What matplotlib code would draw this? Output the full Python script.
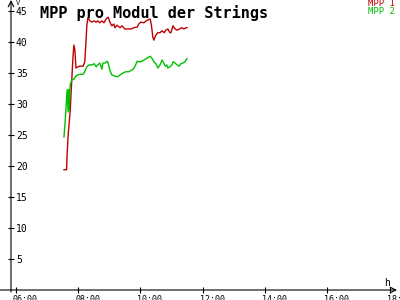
import matplotlib
matplotlib.use('Agg')
import matplotlib.pyplot as plt

# MPP per module, two strings (time of day, value)
red_times = ['07:33', '07:38', '07:39', '07:41', '07:45', '07:46', '07:48', '07:50', '07:52', '07:54',
             '07:56', '08:00', '08:04', '08:10', '08:13', '08:15', '08:17', '08:19', '08:23', '08:27',
             '08:31', '08:35', '08:38', '08:42', '08:46', '08:50', '08:54', '08:58', '09:02', '09:05',
             '09:09', '09:11', '09:15', '09:21', '09:25', '09:30', '09:36', '09:42', '09:48', '09:54',
             '09:57', '10:01', '10:07', '10:13', '10:19', '10:21', '10:23', '10:24', '10:26', '10:30',
             '10:34', '10:38', '10:42', '10:46', '10:49', '10:53', '10:57', '10:59', '11:03', '11:07',
             '11:11', '11:15', '11:20', '11:24', '11:28', '11:30']
red_values = [19.4, 19.4, 21.8, 25.0, 29.0, 30.6, 33.9, 37.1, 39.5, 38.7,
              35.8, 36.0, 36.1, 36.1, 36.8, 39.5, 42.7, 43.9, 43.4, 43.2,
              43.4, 43.2, 43.4, 43.1, 43.4, 43.1, 43.7, 44.0, 43.1, 42.6,
              42.9, 42.3, 42.7, 42.3, 42.6, 42.1, 42.1, 42.1, 42.3, 42.4,
              42.9, 43.2, 43.1, 43.5, 43.7, 42.9, 41.6, 40.8, 40.3, 41.1,
              41.5, 41.5, 41.8, 41.5, 41.9, 42.1, 41.5, 41.5, 42.6, 42.1,
              41.9, 42.1, 42.3, 42.1, 42.3, 42.3]

green_times = ['07:33', '07:35', '07:37', '07:39', '07:41', '07:42', '07:43', '07:45', '07:48', '07:52',
               '07:56', '08:00', '08:04', '08:10', '08:13', '08:17', '08:21', '08:27', '08:31', '08:35',
               '08:38', '08:42', '08:46', '08:48', '08:52', '08:56', '08:58', '09:02', '09:05', '09:11',
               '09:17', '09:21', '09:27', '09:32', '09:38', '09:44', '09:48', '09:52', '09:54', '09:57',
               '10:01', '10:07', '10:13', '10:19', '10:23', '10:26', '10:30', '10:34', '10:38', '10:42',
               '10:44', '10:48', '10:51', '10:53', '10:57', '11:01', '11:03', '11:07', '11:11', '11:15',
               '11:18', '11:22', '11:26', '11:28', '11:30']
green_values = [24.7, 26.9, 29.5, 32.3, 28.7, 32.3, 29.0, 33.1, 33.9, 34.0,
                34.5, 34.7, 34.8, 34.8, 35.2, 36.0, 36.3, 36.3, 36.5, 36.0,
                36.3, 36.6, 35.6, 36.6, 36.6, 36.9, 36.6, 35.3, 34.7, 34.5,
                34.4, 34.7, 35.0, 35.2, 35.2, 35.5, 35.8, 36.5, 36.9, 36.8,
                36.8, 37.1, 37.4, 37.7, 37.3, 36.8, 36.5, 35.8, 36.3, 37.1,
                36.8, 36.1, 36.3, 35.8, 36.0, 36.3, 36.8, 36.6, 36.3, 36.1,
                36.5, 36.6, 36.8, 37.1, 37.3]

series_names = ['MPP 1', 'MPP 2']
series_colors = ['#c00000', '#00c000']

x_ticks = [6, 8, 10, 12, 14, 16, 18]
x_labels = ['06:00', '08:00', '10:00', '12:00', '14:00', '16:00', '18:00']
y_ticks = [5, 10, 15, 20, 25, 30, 35, 40, 45]


def toHours(t):
    h, m = t.split(':')
    return int(h) + int(m) / 60.0


mono = 'DejaVu Sans Mono'

fig = plt.figure(figsize=(4, 3), dpi=100)
ax = fig.add_axes([11 / 400, 10 / 300, 386 / 400, 290 / 300])

ax.plot([toHours(t) for t in red_times], red_values, color=series_colors[0], lw=1.0)
ax.plot([toHours(t) for t in green_times], green_values, color=series_colors[1], lw=1.0)

ax.set_xlim(5.849, 18.24)
ax.set_ylim(0, 46.77)

for s in ax.spines.values():
    s.set_visible(False)

# axes drawn as arrows
ax.annotate('', xy=(1.0, 0), xytext=(-11 / 386, 0), xycoords='axes fraction',
            arrowprops=dict(arrowstyle='->', color='black', lw=0.8, shrinkA=0, shrinkB=0))
ax.annotate('', xy=(0, 1.0), xytext=(0, -2 / 290), xycoords='axes fraction',
            arrowprops=dict(arrowstyle='->', color='black', lw=0.8, shrinkA=0, shrinkB=0))

ax.set_xticks(x_ticks)
ax.set_xticklabels(x_labels, fontsize=6, family=mono, ha='left')
ax.set_yticks(y_ticks)
ax.set_yticklabels([str(v) for v in y_ticks], fontsize=7, family=mono, ha='left')
ax.tick_params(axis='x', direction='inout', length=5, width=0.8, pad=1)
ax.tick_params(axis='y', direction='inout', length=5, width=0.8, pad=-6)
for lbl in ax.get_xticklabels():
    lbl.set_x(lbl.get_position()[0])
from matplotlib.transforms import ScaledTranslation
for lbl in ax.get_xticklabels():
    lbl.set_transform(lbl.get_transform() + ScaledTranslation(-3 / 100, 0, fig.dpi_scale_trans))

ax.set_title('MPP pro Modul der Strings', fontsize=11, family=mono, fontweight='bold',
             loc='left', x=29 / 386, y=1.0, pad=-13)

fig.text(16 / 400, 1 - 3 / 300, 'V', fontsize=5, family=mono, va='center', ha='left')
fig.text(387 / 400, 1 - 283 / 300, 'h', fontsize=7, family=mono, va='center', ha='center')

fig.text(395 / 400, 1 - 4 / 300, series_names[0], fontsize=6.5, family=mono,
         color=series_colors[0], ha='right', va='center')
fig.text(395 / 400, 1 - 12 / 300, series_names[1], fontsize=6.5, family=mono,
         color=series_colors[1], ha='right', va='center')

fig.savefig('out.png', dpi=100)
